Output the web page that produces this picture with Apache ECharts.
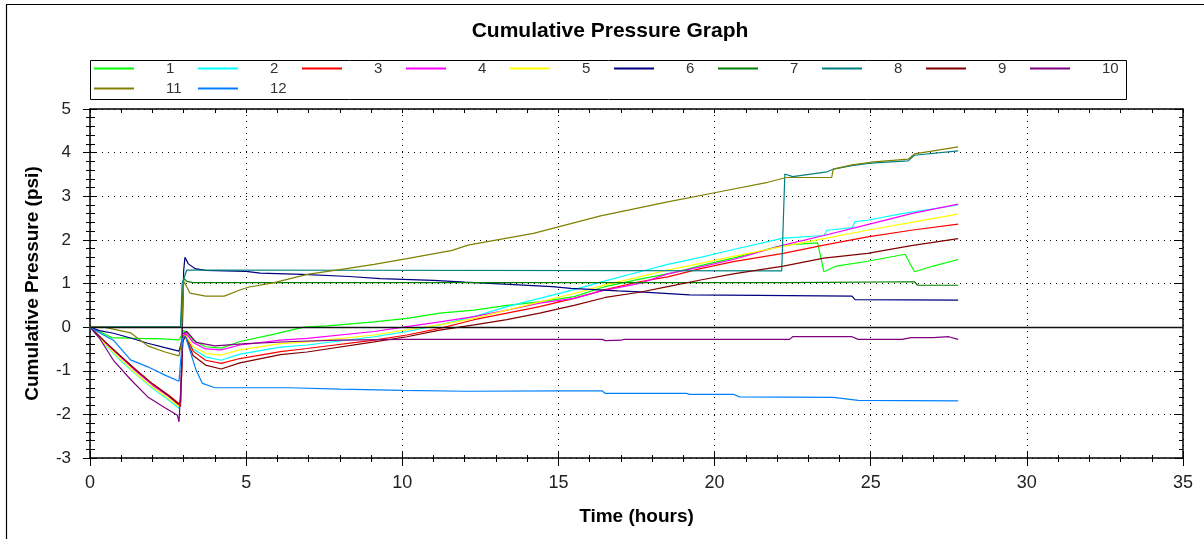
<!DOCTYPE html>
<html>
<head>
<meta charset="utf-8">
<script src="https://cdn.jsdelivr.net/npm/echarts@6/dist/echarts.min.js"></script>
<style>
html,body{margin:0;padding:0;background:#fff;}
#chart{width:1204px;height:539px;}
</style>
</head>
<body>
<div id="chart"></div>
<script>
// ---- data (time in hours, cumulative pressure in psi) ----
const seriesNames = ['1','2','3','4','5','6','7','8','9','10','11','12'];
const seriesColors = ['#00ff00','#00ffff','#ff0000','#ff00ff','#ffff00','#000080','#008000','#008080','#800000','#800080','#808000','#0080ff'];
const legendRow1 = ['1','2','3','4','5','6','7','8','9','10'];
const legendRow2 = ['11','12'];
const xTicks = [0,5,10,15,20,25,30,35];
const yTicks = [-3,-2,-1,0,1,2,3,4,5];

const s1 = [[0,0],[0.3,-0.1],[0.7,-0.24],[1.5,-0.26],[2.3,-0.27],[2.85,-0.29],[2.92,-0.2],[3.0,-0.08],[3.1,-0.12],[3.3,-0.3],[3.7,-0.45],[4.2,-0.48],[4.8,-0.33],[5.9,-0.16],[6.85,0.0],[7.6,0.03],[9.1,0.12],[10.15,0.2],[11.2,0.32],[12.3,0.39],[13.35,0.5],[14.4,0.58],[15.5,0.7],[16.5,0.93],[17.6,1.1],[18.7,1.25],[19.55,1.41],[20.6,1.58],[21.5,1.75],[22.2,1.88],[23.3,1.93],[23.5,1.27],[23.9,1.4],[24.9,1.51],[26.1,1.67],[26.4,1.27],[27.0,1.4],[27.8,1.55]];
const s2 = [[0,0],[0.5,-0.42],[1,-0.78],[1.5,-1.1],[2,-1.4],[2.5,-1.66],[2.85,-1.86],[2.9,-1.6],[2.97,-0.3],[3.05,-0.22],[3.3,-0.5],[3.7,-0.68],[4.2,-0.76],[4.8,-0.62],[6.1,-0.46],[6.95,-0.41],[9.1,-0.22],[10.15,-0.1],[11.2,0.05],[12.3,0.24],[13.35,0.47],[14.4,0.66],[15.5,0.86],[16.5,1.06],[17.6,1.27],[18.5,1.44],[19.55,1.6],[20.6,1.78],[22.2,2.04],[23.5,2.1],[23.6,2.22],[24.4,2.28],[24.5,2.42],[24.9,2.45],[26,2.6],[27.8,2.8]];
const s3 = [[0,0],[0.5,-0.35],[1,-0.68],[1.5,-1.0],[2,-1.3],[2.5,-1.55],[2.85,-1.75],[2.9,-1.82],[2.97,-0.3],[3.05,-0.15],[3.3,-0.55],[3.7,-0.76],[4.2,-0.83],[4.8,-0.72],[6.1,-0.56],[6.95,-0.49],[9.1,-0.3],[10.15,-0.18],[11.2,-0.03],[12.3,0.17],[13.35,0.32],[14.4,0.47],[15.5,0.66],[16.5,0.86],[17.6,1.04],[18.5,1.15],[19.55,1.34],[20.6,1.5],[22.2,1.69],[23.5,1.88],[24.9,2.07],[26.3,2.22],[27.8,2.36]];
const s4 = [[0,0],[0.5,-0.37],[1,-0.7],[1.5,-1.03],[2,-1.33],[2.5,-1.58],[2.85,-1.78],[2.9,-1.7],[2.97,-0.25],[3.05,-0.12],[3.3,-0.35],[3.7,-0.5],[4.2,-0.52],[4.8,-0.41],[6.1,-0.3],[6.95,-0.26],[9.1,-0.1],[10.15,0.01],[11.2,0.12],[12.3,0.24],[13.35,0.39],[14.4,0.55],[15.5,0.66],[16.5,0.85],[17.6,1.0],[18.5,1.22],[19.55,1.38],[20.6,1.55],[22.2,1.88],[23.5,2.1],[24.9,2.35],[26.3,2.6],[27.8,2.82]];
const s5 = [[0,0],[0.5,-0.4],[1,-0.75],[1.5,-1.08],[2,-1.38],[2.5,-1.63],[2.85,-1.82],[2.9,-1.7],[2.97,-0.28],[3.05,-0.18],[3.3,-0.45],[3.7,-0.6],[4.2,-0.64],[4.8,-0.52],[6.1,-0.38],[6.95,-0.34],[9.1,-0.18],[10.15,-0.06],[11.2,0.05],[12.3,0.2],[13.35,0.39],[14.4,0.58],[15.5,0.77],[16.5,0.97],[17.6,1.15],[18.5,1.31],[19.55,1.46],[20.6,1.62],[22.2,1.85],[23.5,2.03],[24.9,2.22],[26.3,2.4],[27.8,2.59]];
const s6 = [[0,0],[0.3,-0.08],[0.75,-0.14],[1.3,-0.25],[1.85,-0.37],[2.4,-0.47],[2.85,-0.55],[2.95,-0.3],[3.0,1.3],[3.04,1.6],[3.15,1.45],[3.37,1.34],[3.7,1.3],[5.0,1.28],[5.45,1.24],[6.8,1.21],[8.3,1.16],[9.3,1.11],[11.0,1.07],[12.0,1.03],[13.1,0.99],[14.8,0.93],[15.4,0.89],[16.9,0.83],[17.6,0.81],[19.2,0.74],[21.4,0.73],[24.4,0.71],[24.5,0.63],[27.8,0.62]];
const s7 = [[0,0],[2.9,0],[2.95,0.5],[3.0,1.12],[3.1,1.05],[3.3,1.02],[22.3,1.02],[22.35,1.04],[26.4,1.04],[26.5,0.96],[27.8,0.96]];
const s8 = [[0,0],[2.9,0],[2.95,1.0],[3.1,1.31],[22.15,1.29],[22.2,1.25],[22.25,3.51],[22.5,3.45],[23.6,3.56],[23.8,3.62],[24.4,3.7],[25.0,3.76],[26.2,3.81],[26.4,3.94],[27.8,4.04]];
const s9 = [[0,0],[0.5,-0.35],[1,-0.68],[1.5,-1.0],[2,-1.3],[2.5,-1.56],[2.85,-1.78],[2.9,-1.7],[2.97,-0.35],[3.05,-0.2],[3.3,-0.65],[3.7,-0.87],[4.2,-0.96],[4.8,-0.82],[6.1,-0.63],[6.95,-0.57],[9.1,-0.34],[10.15,-0.22],[11.2,-0.07],[12.3,0.05],[13.35,0.17],[14.4,0.32],[15.5,0.5],[16.5,0.68],[17.6,0.8],[18.5,0.93],[19.55,1.08],[20.6,1.22],[22.2,1.4],[23.5,1.58],[24.9,1.69],[26.3,1.87],[27.8,2.03]];
const s10 = [[0,0],[0.3,-0.25],[0.75,-0.76],[1.3,-1.2],[1.85,-1.6],[2.4,-1.85],[2.8,-2.02],[2.85,-2.17],[2.9,-1.5],[2.97,-0.15],[3.1,-0.1],[3.4,-0.35],[4.0,-0.43],[5.0,-0.38],[6.5,-0.33],[8.0,-0.3],[10.0,-0.28],[16.4,-0.28],[16.5,-0.31],[17.0,-0.3],[17.1,-0.28],[22.4,-0.28],[22.5,-0.22],[24.4,-0.22],[24.6,-0.28],[26.0,-0.28],[26.3,-0.24],[27.0,-0.24],[27.5,-0.22],[27.8,-0.28]];
const s11 = [[0,0],[0.45,0],[1.3,-0.13],[1.85,-0.43],[2.4,-0.57],[2.85,-0.66],[2.92,-0.4],[3.0,1.05],[3.08,0.95],[3.2,0.78],[3.7,0.71],[4.3,0.71],[4.8,0.85],[5.1,0.92],[5.9,1.02],[6.95,1.21],[8.0,1.32],[9.1,1.44],[10.15,1.57],[11.6,1.76],[12.1,1.88],[14.2,2.15],[16.35,2.55],[18.5,2.87],[20.0,3.08],[21.7,3.32],[22.3,3.43],[23.75,3.43],[23.8,3.62],[24.4,3.72],[25.0,3.78],[26.2,3.85],[26.4,3.97],[27.8,4.13]];
const s12 = [[0,0],[0.3,-0.13],[0.75,-0.3],[1.3,-0.75],[1.85,-0.91],[2.4,-1.1],[2.85,-1.24],[2.9,-0.8],[2.97,-0.25],[3.05,-0.2],[3.4,-0.99],[3.6,-1.29],[4.0,-1.39],[6.4,-1.39],[8,-1.42],[10,-1.45],[12,-1.47],[15.06,-1.46],[16.4,-1.46],[16.5,-1.52],[19.1,-1.52],[19.2,-1.54],[20.6,-1.54],[20.8,-1.6],[23.8,-1.61],[24.6,-1.68],[27.8,-1.69]];
const seriesData = [s1,s2,s3,s4,s5,s6,s7,s8,s9,s10,s11,s12];

const FONT = '"Liberation Sans", Arial, Helvetica, sans-serif';
const chart = echarts.init(document.getElementById('chart'), null, {renderer:'canvas'});

const xBase = {type:'value', min:xTicks[0], max:xTicks[xTicks.length-1], interval:xTicks[1]-xTicks[0]};
const yBase = {type:'value', min:yTicks[0], max:yTicks[yTicks.length-1], interval:yTicks[1]-yTicks[0]};
const black = {color:'#000', width:1};

const series = seriesData.map((d, i) => {
  const s = {
    name: seriesNames[i], type:'line', data:d, xAxisIndex:0, yAxisIndex:0,
    symbol:'none', showSymbol:false, color:seriesColors[i],
    lineStyle:{width:1.2, color:seriesColors[i]}, animation:false
  };
  if (i === 0) {
    s.markLine = {silent:true, symbol:'none', animation:false, label:{show:false},
      lineStyle:{color:'#111', width:1.3, type:'solid'}, data:[{yAxis:0}]};
  }
  return s;
});

function legendRow(names, top) {
  return {
    data:names, left:94, top:top, width:1042, padding:0, itemGap:0,
    itemWidth:40, itemHeight:2, icon:'rect', selectedMode:false,
    formatter: n => '{s| }{a|' + n + '}',
    textStyle:{fontFamily:FONT, fontSize:15, color:'#333',
      rich:{s:{width:27, fontSize:15}, a:{width:32, fontSize:15, color:'#333', lineHeight:20, fontFamily:FONT}}}
  };
}

chart.setOption({
  animation:false,
  backgroundColor:'#fff',
  textStyle:{fontFamily:FONT},
  grid:{left:90, right:21, top:109, bottom:81, containLabel:false},
  graphic:[
    {type:'rect', silent:true, shape:{x:6.5, y:4.5, width:1210, height:545}, style:{fill:'none', stroke:'#000', lineWidth:1.2}},
    {type:'rect', silent:true, shape:{x:90.5, y:60.5, width:1036, height:39}, style:{fill:'none', stroke:'#000', lineWidth:1}},
    {type:'text', silent:true, x:610, y:31, style:{text:'Cumulative Pressure Graph', fill:'#000', font:'bold 21px ' + FONT, align:'center', verticalAlign:'middle', textAlign:'center', textVerticalAlign:'middle'}}
  ],
  legend:[legendRow(legendRow1, 61), legendRow(legendRow2, 81)],
  xAxis:[
    Object.assign({}, xBase, {
      position:'bottom', name:'Time (hours)', nameLocation:'middle', nameGap:49,
      nameTextStyle:{fontSize:19, fontWeight:'bold', color:'#000', fontFamily:FONT},
      axisLine:{show:true, onZero:false, lineStyle:{color:'#000', width:1.5}},
      axisTick:{show:true, inside:false, length:8, lineStyle:black},
      minorTick:{show:true, splitNumber:5, length:4, lineStyle:black},
      axisLabel:{fontSize:18, color:'#222', margin:16, fontFamily:FONT},
      splitLine:{show:true, lineStyle:{color:'#000', type:[1,5], width:1}}
    }),
    Object.assign({}, xBase, {
      position:'bottom', axisLine:{show:false, onZero:false},
      axisTick:{show:true, inside:true, length:7, lineStyle:black},
      minorTick:{show:true, splitNumber:5, length:3, lineStyle:black},
      axisLabel:{show:false}, splitLine:{show:false}
    }),
    Object.assign({}, xBase, {
      position:'top', axisLine:{show:true, onZero:false, lineStyle:{color:'#000', width:1.5}},
      axisTick:{show:true, inside:true, length:4, lineStyle:black},
      minorTick:{show:true, splitNumber:5, length:4, lineStyle:black},
      axisLabel:{show:false}, splitLine:{show:false}
    })
  ],
  yAxis:[
    Object.assign({}, yBase, {
      position:'left', name:'Cumulative Pressure (psi)', nameLocation:'middle', nameGap:48,
      nameTextStyle:{fontSize:19, fontWeight:'bold', color:'#000', fontFamily:FONT},
      axisLine:{show:true, onZero:false, lineStyle:{color:'#000', width:1.5}},
      axisTick:{show:true, inside:false, length:7, lineStyle:black},
      minorTick:{show:true, splitNumber:5, length:4, lineStyle:black},
      axisLabel:{fontSize:17, color:'#222', margin:19, fontFamily:FONT},
      splitLine:{show:true, lineStyle:{color:'#000', type:[1,5], width:1}}
    }),
    Object.assign({}, yBase, {
      position:'left', axisLine:{show:false, onZero:false},
      axisTick:{show:true, inside:true, length:7, lineStyle:black},
      minorTick:{show:true, splitNumber:5, length:5, lineStyle:black},
      axisLabel:{show:false}, splitLine:{show:false}
    }),
    Object.assign({}, yBase, {
      position:'right', axisLine:{show:true, onZero:false, lineStyle:{color:'#000', width:1.5}},
      axisTick:{show:true, inside:true, length:9, lineStyle:black},
      minorTick:{show:true, splitNumber:5, length:4, lineStyle:black},
      axisLabel:{show:false}, splitLine:{show:false}
    })
  ],
  series: series
});
</script>
</body>
</html>
